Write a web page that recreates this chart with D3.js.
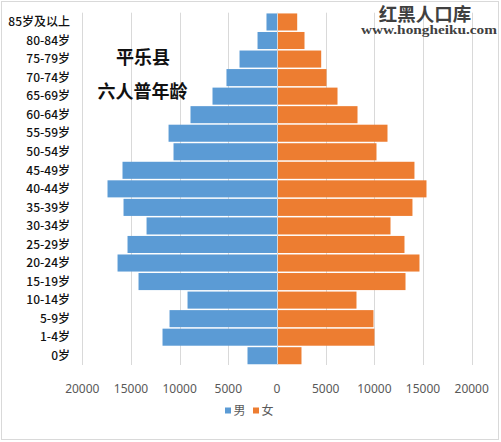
<!DOCTYPE html>
<html>
<head>
<meta charset="utf-8">
<script src="https://cdn.jsdelivr.net/npm/d3@7"></script>
<style>
  body { margin: 0; background: #fff; }
  svg { display: block; }
</style>
</head>
<body>
<script>
const width = 501;
const height = 442;

// age groups, top to bottom
const ages = ['85岁及以上', '80-84岁', '75-79岁', '70-74岁', '65-69岁', '60-64岁', '55-59岁',
  '50-54岁', '45-49岁', '40-44岁', '35-39岁', '30-34岁', '25-29岁', '20-24岁', '15-19岁',
  '10-14岁', '5-9岁', '1-4岁', '0岁'];
const male = [1080, 2000, 3850, 5190, 6625, 8885, 11140, 10630, 15870, 17410, 15765, 13400,
  15355, 16380, 14225, 9190, 11040, 11760, 3030];
const female = [2075, 2825, 4540, 5085, 6215, 8270, 11350, 10220, 14120, 15355, 13915, 11660,
  13095, 14635, 13200, 8165, 9910, 10010, 2515];
const ticks = [-20000, -15000, -10000, -5000, 0, 5000, 10000, 15000, 20000];
const seriesNames = ['男', '女'];
const colors = ['#5B9BD5', '#ED7D31'];

const svg = d3.select('body').append('svg')
  .attr('width', width)
  .attr('height', height);

svg.append('rect')
  .attr('x', 1.5).attr('y', 1.5)
  .attr('width', 497).attr('height', 438)
  .attr('fill', '#fff')
  .attr('stroke', '#d9d9d9');

const x = d3.scaleLinear()
  .domain([-20000, 20000])
  .range([82.3, 471.7]);

const y = d3.scaleBand()
  .domain(ages)
  .range([12.7, 365])
  .paddingInner(0.08)
  .paddingOuter(0.04);

// gridlines
svg.append('g')
  .selectAll('line')
  .data(ticks)
  .enter().append('line')
    .attr('x1', d => Math.round(x(d)) + 0.5)
    .attr('x2', d => Math.round(x(d)) + 0.5)
    .attr('y1', 12.7)
    .attr('y2', 365)
    .attr('stroke', '#d9d9d9');

// male bars (left)
svg.append('g')
  .selectAll('rect')
  .data(male)
  .enter().append('rect')
    .attr('x', d => x(-d))
    .attr('y', (d, i) => y(ages[i]))
    .attr('width', d => x(0) - x(-d))
    .attr('height', y.bandwidth())
    .attr('fill', colors[0]);

// female bars (right)
svg.append('g')
  .selectAll('rect')
  .data(female)
  .enter().append('rect')
    .attr('x', x(0) + 1)
    .attr('y', (d, i) => y(ages[i]))
    .attr('width', d => x(d) - x(0) - 1)
    .attr('height', y.bandwidth())
    .attr('fill', colors[1]);

// category labels
svg.append('g')
  .selectAll('text')
  .data(ages)
  .enter().append('text')
    .attr('x', 70)
    .attr('y', d => y(d) + y.bandwidth() / 2)
    .attr('dy', '0.35em')
    .attr('text-anchor', 'end')
    .style('font-family', '"Noto Sans CJK SC", "Noto Sans", sans-serif')
    .style('font-size', '12px')
    .style('font-weight', 500)
    .style('fill', '#111')
    .text(d => d);

// x tick labels
svg.append('g')
  .selectAll('text')
  .data(ticks)
  .enter().append('text')
    .attr('x', d => x(d))
    .attr('y', 392.5)
    .attr('text-anchor', 'middle')
    .style('font-family', '"Noto Sans", sans-serif')
    .style('font-size', '12px')
    .style('fill', '#595959')
    .text(d => Math.abs(d));

// legend
const legend = svg.append('g')
  .selectAll('g')
  .data(seriesNames)
  .enter().append('g')
    .attr('transform', (d, i) => `translate(${225 + i * 28},0)`);

legend.append('rect')
  .attr('x', 0).attr('y', 407.5)
  .attr('width', 6).attr('height', 6)
  .attr('fill', (d, i) => colors[i]);

legend.append('text')
  .attr('x', 8.5)
  .attr('y', 415)
  .style('font-family', '"Noto Sans CJK SC", sans-serif')
  .style('font-size', '12px')
  .style('fill', '#595959')
  .text(d => d);

// title
const titleFont = '"Noto Sans CJK SC", sans-serif';
svg.append('text')
  .attr('x', 143).attr('y', 64)
  .attr('text-anchor', 'middle')
  .style('font-family', titleFont)
  .style('font-size', '18px')
  .style('font-weight', 'bold')
  .style('fill', '#111')
  .text('平乐县');

svg.append('text')
  .attr('x', 142.5).attr('y', 98)
  .attr('text-anchor', 'middle')
  .style('font-family', titleFont)
  .style('font-size', '18px')
  .style('font-weight', 'bold')
  .style('fill', '#111')
  .text('六人普年龄');

// watermark
svg.append('text')
  .attr('x', 425).attr('y', 20.5)
  .attr('text-anchor', 'middle')
  .style('font-family', titleFont)
  .style('font-size', '18.5px')
  .style('font-weight', 'bold')
  .style('fill', '#404040')
  .text('红黑人口库');

svg.append('text')
  .attr('x', 361).attr('y', 33.5)
  .attr('textLength', 136)
  .attr('lengthAdjust', 'spacingAndGlyphs')
  .style('font-family', '"Liberation Serif", "DejaVu Serif", serif')
  .style('font-size', '12.5px')
  .style('font-weight', 'bold')
  .style('fill', '#404040')
  .text('www.hongheiku.com');
</script>
</body>
</html>
